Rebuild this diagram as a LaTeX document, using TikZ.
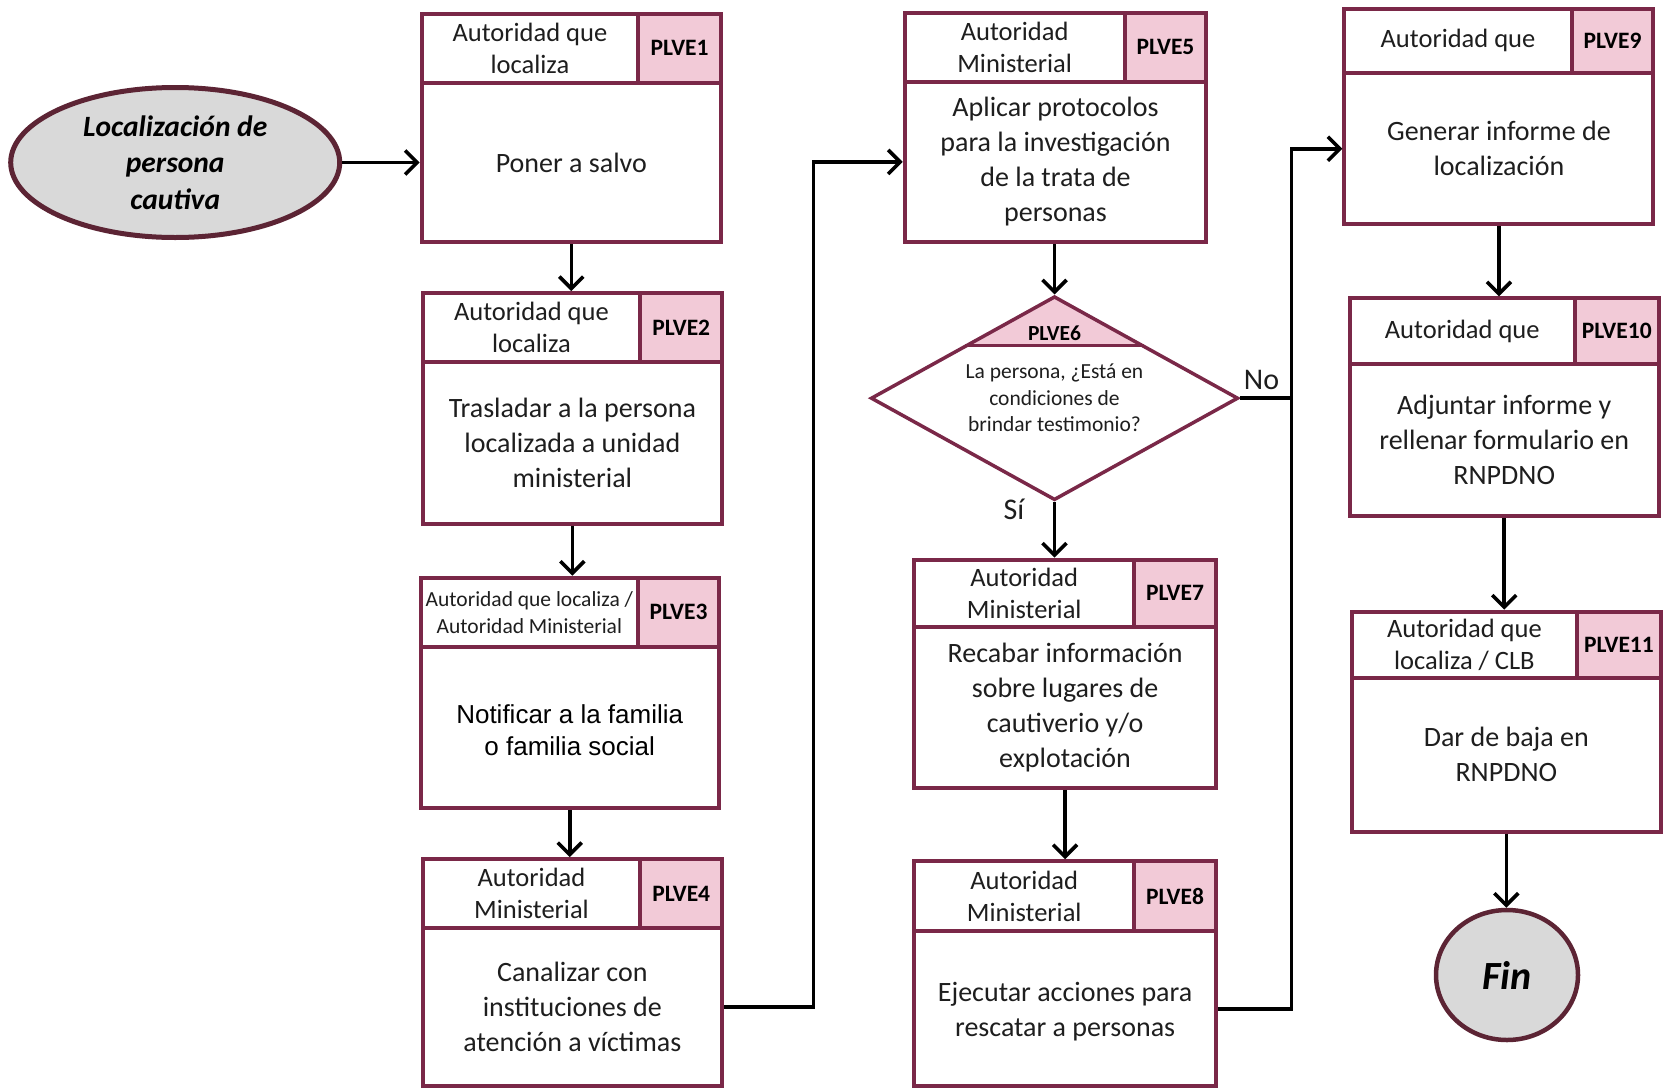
\documentclass[tikz,border=0pt]{standalone}
\usepackage{fontspec}
\setmainfont{Carlito}
\newfontfamily\arialf{Liberation Sans}
\usetikzlibrary{arrows.meta,shapes.geometric,calc}
\definecolor{maroonc}{RGB}{122,40,72}
\definecolor{darkmar}{RGB}{92,36,52}
\definecolor{tagpink}{RGB}{242,202,215}
\definecolor{grayfill}{RGB}{217,217,217}
\definecolor{txt}{RGB}{30,30,30}
\tikzset{
  boxline/.style={draw=maroonc, line width=4pt},
  procbox/.style={draw=maroonc, line width=4pt, rectangle, inner sep=0pt},
  tagfill/.style={fill=tagpink},
  hdrtxt/.style={font=\fontsize{26.5}{32}\selectfont, align=center, inner sep=0pt, text=txt},
  tagtxt/.style={font=\bfseries\fontsize{23.5}{28}\selectfont, inner sep=0pt, text=black},
  bodytxt/.style={font=\fontsize{28}{35}\selectfont, align=center, inner sep=0pt, text=txt},
  conn/.style={draw=black, line width=3.6pt, -{Straight Barb[length=12pt,width=24pt]}},
  plainline/.style={draw=black, line width=3.6pt},
  termell/.style={ellipse, draw=darkmar, fill=grayfill, line width=5pt, inner sep=0pt},
  lbl/.style={font=\fontsize{30}{36}\selectfont, inner sep=0pt, text=txt}
}
\newcommand\pbox[9]{%
  \fill[tagfill] (#7,#3) rectangle (#4,#5);
  \draw[boxline] (#2,#5) -- (#4,#5) (#7,#3) -- (#7,#5);
  \pgfmathsetmacro\pbw{#4-#2}%
  \pgfmathsetmacro\pbh{#6-#3}%
  \node[procbox, minimum width=\pbw pt, minimum height=\pbh pt] (#1) at ({(#2+#4)/2},{(#3+#6)/2}) {};
  \node[hdrtxt] (#1h) at ({(#2+#7)/2},{(#3+#5)/2}) {#8};
  \node[tagtxt] (#1g) at ({(#7+#4)/2},{(#3+#5)/2}) {#9};
  \coordinate (#1-bc) at ({(#2+#4)/2},{(#5+#6)/2});
}
\begin{document}
\begin{tikzpicture}[x=1pt,y=-1pt]
\path[use as bounding box, fill=white] (0,0) rectangle (1665,1090);

% start
\node[termell, minimum width=329pt, minimum height=150pt, font=\bfseries\itshape\fontsize{29.5}{36.6}\selectfont, align=center, text=black] (start) at (175.2,162.5) {Localización de\\persona\\cautiva};

% column 1
\pbox{p1}{421.6}{13.8}{721}{82.8}{242.1}{638.2}{Autoridad que\\localiza}{PLVE1}
\node[bodytxt] (p1t) at (p1-bc) {Poner a salvo};

\pbox{p2}{422.6}{293.1}{722.1}{362.1}{523.5}{640.3}{Autoridad que\\localiza}{PLVE2}
\node[bodytxt] (p2t) at (p2-bc) {Trasladar a la persona\\localizada a unidad\\ministerial};

\begin{scope}[hdrtxt/.append style={font=\fontsize{21.5}{27}\selectfont}]
\pbox{p3}{420.5}{577.7}{718.9}{646.7}{808.1}{638.2}{Autoridad que localiza /\\Autoridad Ministerial}{PLVE3}
\end{scope}
\node[bodytxt, font=\arialf\fontsize{26}{32}\selectfont, text=black] (p3t) at ($(p3-bc)+(0,3)$) {Notificar a la familia\\o familia social};

\pbox{p4}{422.6}{859.1}{722.1}{928.1}{1086.3}{640.3}{Autoridad\\Ministerial}{PLVE4}
\node[bodytxt] (p4t) at (p4-bc) {Canalizar con\\instituciones de\\atención a víctimas};

% column 2
\pbox{p5}{904.7}{12.7}{1206.3}{81.8}{242.1}{1124.6}{Autoridad\\Ministerial}{PLVE5}
\node[bodytxt] (p5t) at (p5-bc) {Aplicar protocolos\\para la investigación\\de la trata de\\personas};

% decision
\coordinate (d6top) at (1054.5,295.2);
\coordinate (d6l) at (870.8,398.2);
\coordinate (d6r) at (1238.2,398.2);
\fill[tagpink] (d6top) -- ($(d6top)!0.489!(d6l)$) -- ($(d6top)!0.489!(d6r)$) -- cycle;
\draw[draw=maroonc, line width=3.5pt] ($(d6top)!0.489!(d6l)$) -- ($(d6top)!0.489!(d6r)$);
\node[diamond, draw=maroonc, line width=3.5pt, minimum width=367.4pt, minimum height=203.9pt, inner sep=0pt] (d6) at (1054.5,398.2) {};
\node[font=\bfseries\fontsize{21.5}{26}\selectfont, inner sep=0pt] (d6g) at (1054.5,333) {PLVE6};
\node[font=\fontsize{21.5}{26.5}\selectfont, align=center, inner sep=0pt, text=txt] (d6t) at (1054.5,398.2) {La persona, ¿Está en\\condiciones de\\brindar testimonio?};

\pbox{p7}{914.3}{559.6}{1215.9}{626.5}{787.9}{1134.1}{Autoridad\\Ministerial}{PLVE7}
\node[bodytxt] (p7t) at (p7-bc) {Recabar información\\sobre lugares de\\cautiverio y/o\\explotación};

\pbox{p8}{914.3}{861.2}{1215.9}{931.3}{1086.3}{1134.1}{Autoridad\\Ministerial}{PLVE8}
\node[bodytxt] (p8t) at ($(p8-bc)+(0,3)$) {Ejecutar acciones para\\rescatar a personas};

% column 3
\pbox{p9}{1344.4}{8.5}{1653.4}{73.3}{224.1}{1571.6}{Autoridad que}{PLVE9}
\node[bodytxt] (p9t) at (p9-bc) {Generar informe de\\localización};

\pbox{p10}{1349.7}{298.4}{1658.7}{364.2}{516.1}{1574.8}{Autoridad que}{PLVE10}
\node[bodytxt] (p10t) at (p10-bc) {Adjuntar informe y\\rellenar formulario en\\RNPDNO};

\pbox{p11}{1351.8}{611.7}{1660.8}{677.5}{831.5}{1577}{Autoridad que\\localiza / CLB}{PLVE11}
\node[bodytxt] (p11t) at (p11-bc) {Dar de baja en\\RNPDNO};

\node[termell, line width=4.5pt, minimum width=142pt, minimum height=130pt, font=\bfseries\itshape\fontsize{40}{48}\selectfont, text=black] (fin) at (1507,975) {Fin};

% junction coordinates
\coordinate (j1) at (813.4,0);
\coordinate (j2) at (1291.3,0);

% connectors
\draw[conn] (start.east) -- (start.east -| p1.west);
\draw[conn] (p1.south) -- (p1.south |- p2.north);
\draw[conn] (p2.south) -- (p2.south |- p3.north);
\draw[conn] (p3.south) -- (p3.south |- p4.north);
\draw[conn] (p4-bc -| p4.east) -| (j1 |- p5-bc) -- (p5-bc -| p5.west);
\draw[conn] (p5.south -| d6.north) -- (d6.north);
\draw[conn] (d6.south) -- (d6.south |- p7.north);
\draw[conn] (p7.south) -- (p7.south |- p8.north);
\draw[plainline] (p8-bc -| p8.east) -| (j2 |- d6.east);
\draw[conn] (d6.east) -- (j2 |- d6.east) |- (p9-bc -| p9.west);
\draw[conn] (p9.south) -- (p9.south |- p10.north);
\draw[conn] (p10.south) -- (p10.south |- p11.north);
\draw[conn] (p11.south) -- (p11.south |- fin.north);

% labels
\node[lbl] (no) at (1261.5,380) {No};
\node[lbl] (si) at (1014,509.7) {Sí};
\end{tikzpicture}
\end{document}
